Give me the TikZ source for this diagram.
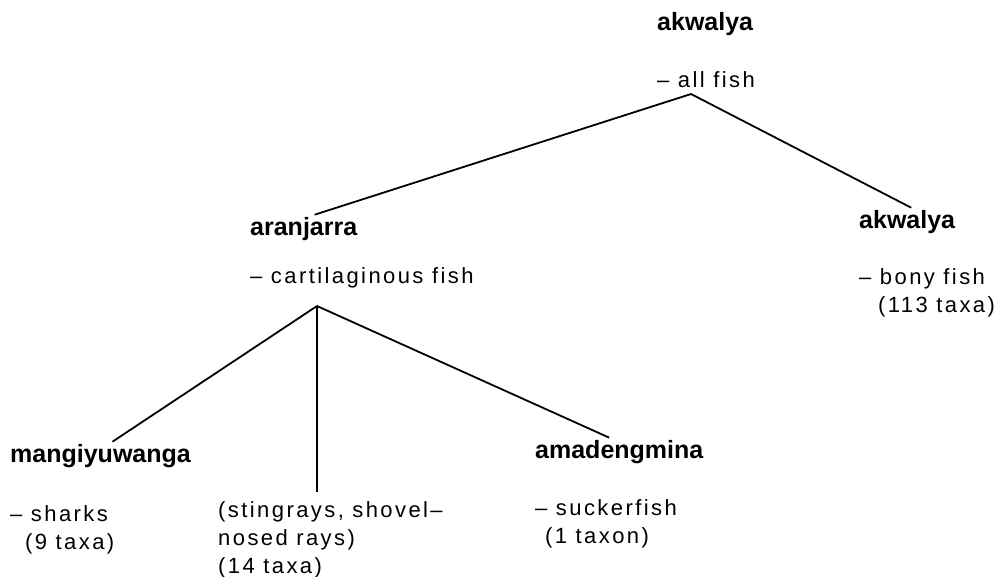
\documentclass[tikz,border=0pt]{standalone}
\usepackage{fontspec}
\setmainfont{Liberation Sans}
\newfontfamily\lsfont[LetterSpace=11]{Liberation Sans}
\usetikzlibrary{calc}
\begin{document}
\begin{tikzpicture}[x=1pt,y=-1pt,
  taxon/.style={font=\bfseries\fontsize{25}{30}\selectfont, anchor=base west, inner sep=2pt},
  desc/.style={font=\lsfont\fontsize{22}{28}\selectfont, anchor=base west, align=left, inner sep=0pt},
  link/.style={line width=1.8pt}]
\useasboundingbox (0,0) rectangle (1000,576);
% texts (base anchor of a multi-line node = baseline of its last line)
\node[taxon] (akw) at (655,30) {akwalya};
\node[desc] (all) at (657,87) {– all fish};
\node[taxon] (ara) at (248,235) {aranjarra};
\node[desc] (cart) at (250,283) {– cartilaginous fish};
\node[taxon] (akw2) at (857,228) {akwalya};
\node[desc] (bony) at (859,312) {– bony fish\\\hspace*{19pt}(113 taxa)};
\node[taxon] (mang) at (8,462) {mangiyuwanga};
\node[desc] (sharks) at (10,549) {– sharks\\\hspace*{15pt}(9 taxa)};
\node[desc] (rays) at (218,573) {(stingrays, shovel–\\nosed rays)\\(14 taxa)};
\node[taxon] (amad) at (533,458) {amadengmina};
\node[desc] (sucker) at (535,543) {– suckerfish\\\hspace*{10pt}(1 taxon)};
% branch points
\coordinate (apex1) at (691,94);
\coordinate (apex2) at (317,306);
% connectors
\draw[link] (apex1) -- ([xshift=11pt]ara.north);
\draw[link] (apex1) -- ([xshift=4pt]akw2.north);
\draw[link] (apex2) -- ([xshift=12pt]mang.north);
\draw[link] (apex2) -- ($(apex2 |- rays.north)+(0,-9)$);
\draw[link] (apex2) -- ([xshift=-10pt]amad.north);
\end{tikzpicture}
\end{document}
